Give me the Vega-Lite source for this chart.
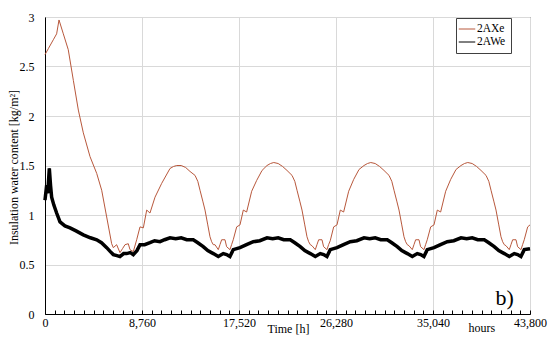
{
  "$schema": "https://vega.github.io/schema/vega-lite/v6.json",
  "width": 485,
  "height": 297,
  "autosize": "none",
  "padding": {"left": 45, "top": 17, "right": 20, "bottom": 28},
  "background": "white",
  "config": {
    "font": "Liberation Serif",
    "view": {"stroke": "#404040", "strokeWidth": 1},
    "axis": {"labelFont": "Liberation Serif", "titleFont": "Liberation Serif"},
    "legend": {"labelFont": "Liberation Serif"},
    "text": {"font": "Liberation Serif"}
  },
  "datasets": {
    "ax": [
      {"t":0,"v":2.62},{"t":300,"v":2.68},{"t":750,"v":2.77},{"t":1050,"v":2.83},{"t":1265,"v":2.97},{"t":1655,"v":2.83},{"t":2100,"v":2.67},{"t":2560,"v":2.36},{"t":3010,"v":2.06},{"t":3460,"v":1.83},{"t":4065,"v":1.59},{"t":4670,"v":1.42},{"t":5120,"v":1.25},{"t":5570,"v":0.98},{"t":6020,"v":0.71},{"t":6170,"v":0.67},{"t":6470,"v":0.70},{"t":6770,"v":0.62},{"t":7000,"v":0.66},{"t":7225,"v":0.70},{"t":7520,"v":0.71},{"t":7675,"v":0.65},{"t":7975,"v":0.63},{"t":8280,"v":0.75},{"t":8580,"v":0.88},{"t":8880,"v":0.87},{"t":9185,"v":1.05},{"t":9480,"v":1.02},{"t":9935,"v":1.18},{"t":10540,"v":1.32},
      {"t":11290,"v":1.47},{"t":11600,"v":1.49},{"t":11900,"v":1.50},{"t":12300,"v":1.50},{"t":12700,"v":1.48},{"t":13095,"v":1.44},{"t":13550,"v":1.40},{"t":13800,"v":1.34},{"t":14000,"v":1.25},{"t":14250,"v":1.14},{"t":14450,"v":1.05},{"t":14700,"v":0.90},{"t":14900,"v":0.78},{"t":15050,"v":0.73},{"t":15200,"v":0.70},{"t":15350,"v":0.70},{"t":15650,"v":0.65},{"t":15800,"v":0.70},{"t":15955,"v":0.75},{"t":16255,"v":0.75},{"t":16400,"v":0.68},{"t":16705,"v":0.65},{"t":16850,"v":0.70},{"t":17000,"v":0.75},{"t":17310,"v":0.88},{"t":17610,"v":0.90},{"t":17910,"v":1.05},{"t":18210,"v":1.03},{"t":18665,"v":1.24},{"t":19120,"v":1.35},{"t":19600,"v":1.45},
      {"t":20050,"v":1.50},{"t":20360,"v":1.52},{"t":20660,"v":1.53},{"t":21060,"v":1.52},{"t":21460,"v":1.49},{"t":21855,"v":1.45},{"t":22310,"v":1.40},{"t":22560,"v":1.34},{"t":22760,"v":1.25},{"t":23010,"v":1.14},{"t":23210,"v":1.05},{"t":23460,"v":0.90},{"t":23660,"v":0.78},{"t":23810,"v":0.73},{"t":23960,"v":0.70},{"t":24110,"v":0.69},{"t":24410,"v":0.65},{"t":24560,"v":0.70},{"t":24715,"v":0.75},{"t":25015,"v":0.75},{"t":25160,"v":0.68},{"t":25465,"v":0.65},{"t":25610,"v":0.70},{"t":25760,"v":0.74},{"t":26070,"v":0.88},{"t":26370,"v":0.90},{"t":26670,"v":1.05},{"t":26970,"v":1.03},{"t":27425,"v":1.24},{"t":27880,"v":1.36},{"t":28360,"v":1.46},
      {"t":28810,"v":1.50},{"t":29120,"v":1.52},{"t":29420,"v":1.53},{"t":29820,"v":1.52},{"t":30220,"v":1.49},{"t":30615,"v":1.45},{"t":31070,"v":1.40},{"t":31320,"v":1.34},{"t":31520,"v":1.25},{"t":31770,"v":1.14},{"t":31970,"v":1.05},{"t":32220,"v":0.90},{"t":32420,"v":0.78},{"t":32570,"v":0.73},{"t":32720,"v":0.70},{"t":32870,"v":0.69},{"t":33170,"v":0.65},{"t":33320,"v":0.70},{"t":33475,"v":0.75},{"t":33775,"v":0.75},{"t":33920,"v":0.68},{"t":34225,"v":0.65},{"t":34370,"v":0.70},{"t":34520,"v":0.75},{"t":34830,"v":0.88},{"t":35130,"v":0.90},{"t":35430,"v":1.05},{"t":35730,"v":1.03},{"t":36185,"v":1.24},{"t":36640,"v":1.36},{"t":37120,"v":1.46},
      {"t":37570,"v":1.50},{"t":37880,"v":1.52},{"t":38180,"v":1.53},{"t":38580,"v":1.52},{"t":38980,"v":1.49},{"t":39375,"v":1.45},{"t":39830,"v":1.40},{"t":40080,"v":1.34},{"t":40280,"v":1.25},{"t":40530,"v":1.14},{"t":40730,"v":1.05},{"t":40980,"v":0.90},{"t":41180,"v":0.78},{"t":41330,"v":0.73},{"t":41480,"v":0.70},{"t":41630,"v":0.69},{"t":41930,"v":0.65},{"t":42080,"v":0.70},{"t":42235,"v":0.75},{"t":42535,"v":0.75},{"t":42680,"v":0.68},{"t":42985,"v":0.65},{"t":43130,"v":0.70},{"t":43280,"v":0.75},{"t":43590,"v":0.88},{"t":43800,"v":0.90}
    ],
    "aw": [
      {"t":0,"v":1.15},{"t":150,"v":1.30},{"t":250,"v":1.22},{"t":390,"v":1.47},{"t":500,"v":1.30},{"t":600,"v":1.18},{"t":800,"v":1.10},{"t":1050,"v":1.02},{"t":1355,"v":0.93},{"t":1800,"v":0.89},{"t":2260,"v":0.87},{"t":2800,"v":0.84},{"t":3460,"v":0.80},{"t":4100,"v":0.77},{"t":4670,"v":0.75},{"t":5100,"v":0.72},{"t":5570,"v":0.67},{"t":5900,"v":0.63},{"t":6170,"v":0.60},{"t":6500,"v":0.59},{"t":6770,"v":0.58},{"t":7100,"v":0.61},{"t":7375,"v":0.61},{"t":7700,"v":0.62},{"t":7975,"v":0.60},{"t":8300,"v":0.64},{"t":8580,"v":0.70},{"t":9000,"v":0.70},{"t":9480,"v":0.72},{"t":9900,"v":0.74},{"t":10385,"v":0.73},{"t":10800,"v":0.75},
      {"t":11290,"v":0.77},{"t":11800,"v":0.76},{"t":12300,"v":0.77},{"t":12800,"v":0.75},{"t":13390,"v":0.75},{"t":13800,"v":0.72},{"t":14290,"v":0.68},{"t":14700,"v":0.64},{"t":15200,"v":0.61},{"t":15650,"v":0.58},{"t":16100,"v":0.61},{"t":16400,"v":0.60},{"t":16700,"v":0.58},{"t":17000,"v":0.65},{"t":17610,"v":0.67},{"t":18200,"v":0.70},{"t":18810,"v":0.73},{"t":19400,"v":0.74},
      {"t":20050,"v":0.77},{"t":20560,"v":0.76},{"t":21060,"v":0.77},{"t":21560,"v":0.75},{"t":22150,"v":0.75},{"t":22560,"v":0.72},{"t":23050,"v":0.68},{"t":23460,"v":0.64},{"t":23960,"v":0.61},{"t":24410,"v":0.58},{"t":24860,"v":0.61},{"t":25160,"v":0.60},{"t":25460,"v":0.58},{"t":25760,"v":0.65},{"t":26370,"v":0.67},{"t":26960,"v":0.70},{"t":27570,"v":0.73},{"t":28160,"v":0.74},
      {"t":28810,"v":0.77},{"t":29320,"v":0.76},{"t":29820,"v":0.77},{"t":30320,"v":0.75},{"t":30910,"v":0.75},{"t":31320,"v":0.72},{"t":31810,"v":0.68},{"t":32220,"v":0.64},{"t":32720,"v":0.61},{"t":33170,"v":0.58},{"t":33620,"v":0.61},{"t":33920,"v":0.60},{"t":34220,"v":0.58},{"t":34520,"v":0.65},{"t":35130,"v":0.67},{"t":35720,"v":0.70},{"t":36330,"v":0.73},{"t":36920,"v":0.74},
      {"t":37570,"v":0.77},{"t":38080,"v":0.76},{"t":38580,"v":0.77},{"t":39080,"v":0.75},{"t":39670,"v":0.75},{"t":40080,"v":0.72},{"t":40570,"v":0.68},{"t":40980,"v":0.64},{"t":41480,"v":0.61},{"t":41930,"v":0.58},{"t":42380,"v":0.61},{"t":42680,"v":0.60},{"t":42980,"v":0.58},{"t":43280,"v":0.65},{"t":43800,"v":0.66}
    ],
    "notes": [
      {"label": "hours", "t": 39460, "v": -0.18, "size": "small"},
      {"label": "b)", "t": 41500, "v": 0.09, "size": "big"}
    ]
  },
  "encoding": {
    "x": {
      "field": "t", "type": "quantitative",
      "scale": {"domain": [0, 43800], "nice": false, "zero": false},
      "axis": {
        "values": [0,876,1752,2628,3504,4380,5256,6132,7008,7884,8760,9636,10512,11388,12264,13140,14016,14892,15768,16644,17520,18396,19272,20148,21024,21900,22776,23652,24528,25404,26280,27156,28032,28908,29784,30660,31536,32412,33288,34164,35040,35916,36792,37668,38544,39420,40296,41172,42048,42924,43800],
        "labelExpr": "datum.value % 8760 === 0 ? format(datum.value, ',') : ''",
        "labelOverlap": false,
        "labelFlush": false,
        "labelFontSize": 12,
        "labelColor": "black",
        "labelPadding": 7,
        "tickSize": -4,
        "tickColor": "black",
        "domainColor": "black",
        "grid": true,
        "gridColor": "#d9d9d9",
        "gridOpacity": {"condition": {"test": "datum.value % 8760 === 0", "value": 1}, "value": 0},
        "title": "Time [h]",
        "titleFontSize": 12,
        "titleFontWeight": "normal",
        "titleColor": "black",
        "titleX": 243,
        "titleY": 18,
        "titleBaseline": "alphabetic"
      }
    },
    "y": {
      "field": "v", "type": "quantitative",
      "scale": {"domain": [0, 3], "nice": false},
      "axis": {
        "values": [0, 0.5, 1, 1.5, 2, 2.5, 3],
        "format": "~g",
        "ticks": false,
        "labelPadding": 11,
        "labelFontSize": 12,
        "labelColor": "black",
        "domainColor": "black",
        "grid": true,
        "gridColor": "#d9d9d9",
        "title": "Insulation water content [kg/m²]",
        "titleFontSize": 12,
        "titleFontWeight": "normal",
        "titleColor": "black",
        "titleX": -32,
        "titleY": 150,
        "titleAngle": 270,
        "titleBaseline": "middle",
        "titleAlign": "center"
      }
    }
  },
  "layer": [
    {
      "data": {"name": "ax"},
      "mark": {"type": "line", "strokeWidth": 1, "interpolate": "linear"},
      "encoding": {
        "color": {
          "datum": "2AXe",
          "scale": {"domain": ["2AXe", "2AWe"], "range": ["#b8583c", "#000000"]},
          "legend": {
            "title": null,
            "orient": "none",
            "legendX": 411,
            "legendY": 1,
            "strokeColor": "#404040",
            "fillColor": "white",
            "padding": 5,
            "symbolType": "M-1.5,0H1.5",
            "symbolStrokeWidth": 1,
            "symbolSize": 121,
            "labelFontSize": 11.5,
            "labelColor": "black",
            "labelOffset": 4,
            "rowPadding": 1
          }
        }
      }
    },
    {
      "data": {"name": "aw"},
      "mark": {"type": "line", "strokeWidth": 1, "interpolate": "linear"},
      "encoding": {"color": {"datum": "2AWe"}}
    },
    {
      "data": {"name": "aw"},
      "mark": {"type": "line", "strokeWidth": 3.5, "color": "black", "interpolate": "linear"},
      "encoding": {}
    },
    {
      "data": {"name": "notes"},
      "transform": [{"filter": "datum.size === 'small'"}],
      "mark": {"type": "text", "fontSize": 12, "baseline": "alphabetic", "align": "center", "color": "black", "font": "Liberation Serif"},
      "encoding": {"text": {"field": "label"}}
    },
    {
      "data": {"name": "notes"},
      "transform": [{"filter": "datum.size === 'big'"}],
      "mark": {"type": "text", "fontSize": 22, "baseline": "alphabetic", "align": "center", "color": "black", "font": "Liberation Serif"},
      "encoding": {"text": {"field": "label"}}
    }
  ]
}
